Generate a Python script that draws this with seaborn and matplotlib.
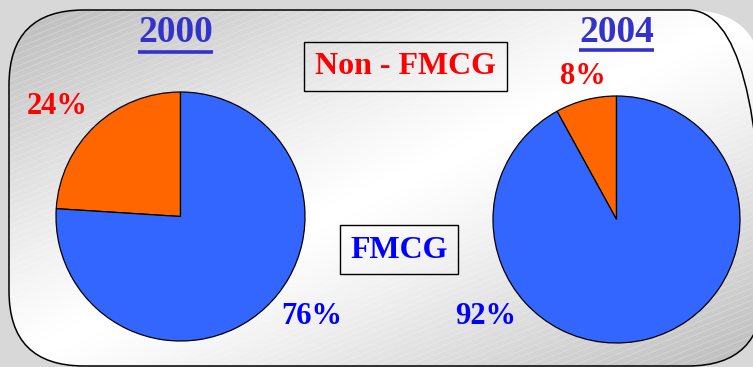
import numpy as np
import pandas as pd
import seaborn as sns
import matplotlib.pyplot as plt
from matplotlib.patches import FancyBboxPatch, Rectangle

years = ['2000', '2004']
fmcg = [76, 92]
non_fmcg = [24, 8]
segments = ['Non - FMCG', 'FMCG']

df = pd.DataFrame({'year': years, 'FMCG': fmcg, 'Non - FMCG': non_fmcg})

sns.set_style('white')
plt.rcParams['font.family'] = ['Liberation Serif', 'DejaVu Serif']

W, H = 753, 367
fig = plt.figure(figsize=(W / 100, H / 100), dpi=100, facecolor='#d8d8d8')
ax = fig.add_axes([0, 0, 1, 1])
ax.set_facecolor('#d8d8d8')

# rounded panel with diagonal gradient (grey -> white -> grey)
panel = FancyBboxPatch((9, 1), 754, 356,
                       boxstyle='round,pad=0,rounding_size=75', facecolor='none',
                       edgecolor='black', linewidth=1.1, zorder=3)
ax.add_patch(panel)
gx, gy = np.meshgrid(np.linspace(0, 1, 400), np.linspace(0, 1, 200))
u = gx + gy - 1  # top-left -> bottom-right in image rows
shade = 1 - 0.27 * np.abs(u) ** 1.2
grad = ax.imshow(shade, cmap='gray', vmin=0, vmax=1, extent=[9, 763, 1, 357],
                 origin='upper', zorder=1, aspect='auto')
grad.set_clip_path(panel)

# faint diagonal stripes
xs = np.array([0, W])
for b in np.arange(-300, H + 10, 6):
    ln, = ax.plot(xs, b + xs * 0.4, color='white', alpha=0.25, linewidth=0.6, zorder=2)
    ln.set_clip_path(panel)

colors = ['#ff6600', '#3366ff']
centers = [(180.5, 150.5), (616.5, 147.5)]
radii = [124.5, 123.5]
for i, row in df.iterrows():
    ax.pie([row['Non - FMCG'], row['FMCG']], colors=colors, startangle=90,
           counterclock=True, center=centers[i], radius=radii[i],
           wedgeprops=dict(edgecolor='black', linewidth=0.9, zorder=4), frame=True)

ax.set_xlim(0, W)
ax.set_ylim(0, H)
ax.set_aspect('equal')
ax.axis('off')

title_color = '#3333cc'
title_pos = [(176, 334), (617, 334)]
underline = [(138, 213, 315.5), (579, 654, 317.5)]
for yr, (tx, ty), (x0, x1, uy) in zip(years, title_pos, underline):
    ax.text(tx, ty, yr, color=title_color, fontsize=27, fontweight='bold',
            ha='center', va='center', zorder=5)
    ax.plot([x0, x1], [uy, uy], color=title_color, linewidth=2.6,
            solid_capstyle='butt', zorder=5)

# percentage labels
non_pos = [(57, 260), (583, 291)]
fmcg_pos = [(312, 51), (486, 51)]
for i in range(len(years)):
    ax.text(*non_pos[i], f'{non_fmcg[i]}%', color='#ff0000', fontsize=22,
            fontweight='bold', ha='center', va='center', zorder=5)
    ax.text(*fmcg_pos[i], f'{fmcg[i]}%', color='#0000ff', fontsize=22,
            fontweight='bold', ha='center', va='center', zorder=5)

# legend-like boxes
ax.add_patch(Rectangle((304, 276), 203, 49, facecolor='none', edgecolor='black',
                       linewidth=1, zorder=4))
ax.text(405.5, 300, segments[0], color='#ff0000', fontsize=23, fontweight='bold',
        ha='center', va='center', zorder=5)
ax.add_patch(Rectangle((340, 93), 118, 49, facecolor='none', edgecolor='black',
                       linewidth=1, zorder=4))
ax.text(399, 117, segments[1], color='#0000ff', fontsize=23, fontweight='bold',
        ha='center', va='center', zorder=5)

fig.savefig('out.png', dpi=100, facecolor=fig.get_facecolor())
